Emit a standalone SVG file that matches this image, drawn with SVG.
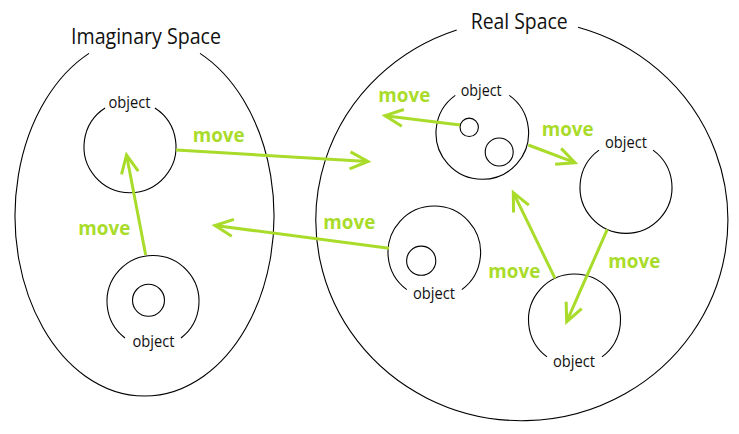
<svg xmlns="http://www.w3.org/2000/svg" width="739" height="434" viewBox="0 0 739 434">
<style>
.outline{fill:none;stroke:#000;stroke-width:1.1}
.title{font-family:"Open Sans","Noto Sans","Liberation Sans",sans-serif;font-size:22px;fill:#111}
.lbl{font-family:"Open Sans","Noto Sans","Liberation Sans",sans-serif;font-size:15.5px;fill:#111;text-anchor:middle}
.mv{font-family:"Open Sans","Noto Sans","Liberation Sans",sans-serif;font-size:20px;font-weight:bold;fill:#a9dc2a}
.arrow{fill:none;stroke:#a9dc2a;stroke-width:3;marker-end:url(#head)}
</style>
<defs>
<marker id="head" markerUnits="userSpaceOnUse" viewBox="0 0 22 20" markerWidth="22" markerHeight="20" refX="19" refY="10" orient="auto" overflow="visible">
<path d="M1,1.5 L19,10 L1,18.5" fill="none" stroke="#a9dc2a" stroke-width="3" stroke-linejoin="miter"/>
</marker>
</defs>
<rect width="739" height="434" fill="#fff"/>
<g id="imaginary-space">
<path class="outline" d="M89,53.4 A129.5,180 0 1 0 200,53.4"/>
<text class="title" x="71" y="44" textLength="150" lengthAdjust="spacingAndGlyphs">Imaginary Space</text>
</g>
<g id="real-space">
<path class="outline" d="M456.7,30 A206,200.5 0 1 0 578,27.3"/>
<text class="title" x="470.7" y="29.3" textLength="97" lengthAdjust="spacingAndGlyphs">Real Space</text>
</g>
<g id="img-object-top">
<path class="outline" d="M105.1,108 A46,46 0 1 0 154.9,108"/>
<text class="lbl" x="129.5" y="108" textLength="42" lengthAdjust="spacingAndGlyphs">object</text>
</g>
<g id="img-object-bottom">
<path class="outline" d="M125,338 A46,46 0 1 1 181,338"/>
<circle class="outline" cx="148.5" cy="300.3" r="16"/>
<text class="lbl" x="153.5" y="346.5" textLength="42" lengthAdjust="spacingAndGlyphs">object</text>
</g>
<g id="real-object-a">
<path class="outline" d="M455.3,95.4 A46.3,46.3 0 1 0 509.3,95.4"/>
<circle class="outline" cx="469.2" cy="127.3" r="9.2"/>
<circle class="outline" cx="499.2" cy="152" r="14"/>
<text class="lbl" x="481.2" y="96" textLength="41" lengthAdjust="spacingAndGlyphs">object</text>
</g>
<g id="real-object-b">
<path class="outline" d="M599,150.1 A46,46 0 1 0 653,150.1"/>
<text class="lbl" x="626" y="148" textLength="42" lengthAdjust="spacingAndGlyphs">object</text>
</g>
<g id="real-object-c">
<path class="outline" d="M406.8,289.6 A46.3,46.3 0 1 1 461.8,289.6"/>
<circle class="outline" cx="421.2" cy="260.7" r="14.6"/>
<text class="lbl" x="434" y="299" textLength="42" lengthAdjust="spacingAndGlyphs">object</text>
</g>
<g id="real-object-d">
<path class="outline" d="M547,356.9 A46,46 0 1 1 602,356.9"/>
<text class="lbl" x="574" y="366.7" textLength="42" lengthAdjust="spacingAndGlyphs">object</text>
</g>
<g id="connectors">
<line class="arrow" x1="176" y1="150" x2="368" y2="161.5"/>
<line class="arrow" x1="145.7" y1="255" x2="126.5" y2="155"/>
<line class="arrow" x1="389" y1="248.3" x2="215" y2="225.5"/>
<line class="arrow" x1="460" y1="125" x2="385" y2="115.7"/>
<line class="arrow" x1="528.3" y1="145" x2="575" y2="162.7"/>
<line class="arrow" x1="607.3" y1="229.3" x2="566.7" y2="321.7"/>
<line class="arrow" x1="555" y1="278.3" x2="513.3" y2="192.7"/>
<text class="mv" x="192.7" y="141.7" textLength="52" lengthAdjust="spacingAndGlyphs">move</text>
<text class="mv" x="78.3" y="235" textLength="52" lengthAdjust="spacingAndGlyphs">move</text>
<text class="mv" x="323.3" y="229.3" textLength="52" lengthAdjust="spacingAndGlyphs">move</text>
<text class="mv" x="378.3" y="101.7" textLength="52" lengthAdjust="spacingAndGlyphs">move</text>
<text class="mv" x="541.7" y="136" textLength="52" lengthAdjust="spacingAndGlyphs">move</text>
<text class="mv" x="608.3" y="267.7" textLength="52" lengthAdjust="spacingAndGlyphs">move</text>
<text class="mv" x="488.3" y="278.3" textLength="52" lengthAdjust="spacingAndGlyphs">move</text>
</g>
</svg>
